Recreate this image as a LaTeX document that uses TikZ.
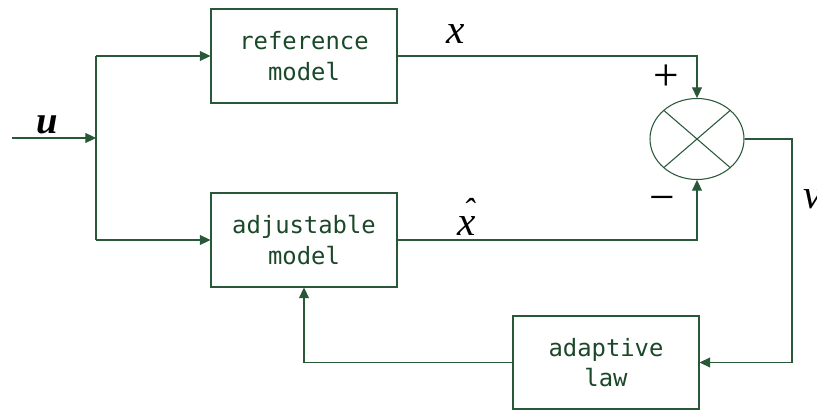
\documentclass[tikz,border=0pt]{standalone}
\usepackage{fontspec}
\setmainfont{Liberation Serif}
\newfontfamily\boxfont{DejaVu Sans Mono}
\usetikzlibrary{arrows.meta,shapes.geometric,calc}

\definecolor{wire}{RGB}{40,88,56}
\definecolor{ink}{RGB}{28,72,42}

\tikzset{
  wire/.style={draw=wire, line width=0.8pt},
  arr/.style={wire, -{Triangle[length=8pt,width=7.5pt]}},
  block/.style={draw=wire, line width=0.8pt, rectangle, inner sep=0pt,
    minimum width=139.5pt, minimum height=70.5pt, align=center,
    text=ink, font=\boxfont\fontsize{17.9}{23}\selectfont},
  sig/.style={inner sep=0pt, font=\fontsize{31}{34}\selectfont\itshape},
  sgn/.style={inner sep=0pt, font=\fontsize{34}{36}\selectfont}
}

\begin{document}
\begin{tikzpicture}[x=0.75pt, y=-0.75pt]
  \useasboundingbox (0,0) rectangle (817,410);

  % blocks
  \node[block] (ref) at (304,56) {reference\\model};
  \node[block] (adj) at (304,240) {adjustable\\model};
  \node[block, minimum height=69.75pt] (law) at (606,362.5) {adaptive\\law};

  % comparator
  \node[draw=wire, line width=0.8pt, ellipse, inner sep=0pt,
        minimum width=70.5pt, minimum height=60.75pt] (sum) at (697,139) {};
  \draw[wire] ($(sum.center)+(-33.2,-28.6)$) -- ($(sum.center)+(33.2,28.6)$);
  \draw[wire] ($(sum.center)+(33.2,-28.6)$) -- ($(sum.center)+(-33.2,28.6)$);

  % input and its branches
  \coordinate (in) at (12,138);
  \coordinate (split) at (96,138);
  \coordinate (ta) at (96,56);
  \coordinate (tb) at (96,240);
  \draw[arr] (in) -- (split);
  \draw[wire] (ta) -- (tb);
  \draw[arr] (ta) -- (ref.west);
  \draw[arr] (tb) -- (adj.west);

  % model outputs into the comparator
  \draw[arr] (ref.east) -| (sum.north);
  \draw[arr] (adj.east) -| (sum.south);

  % error feedback through the adaptive law
  \coordinate (vc) at (792,362.5);
  \draw[arr] (sum.east) -| (vc) -- (law.east);
  \draw[arr] (law.west) -| (adj.south);

  % signal labels
  \node[sig, font=\fontsize{29}{32}\selectfont\bfseries\itshape] (lu) at (47,125) {u};
  \node[sig] (lx) at (456,34) {x};
  \node[sig] (lxh) at (467,217) {\rlap{\hspace{0.12em}\raisebox{0.3em}{\fontsize{26}{28}\selectfont ˆ}}x};
  \node[sig, anchor=west] (lv) at (803,199) {v};
  \node[sgn] (lp) at (666,78) {+};
  \node[sgn] (lm) at (662,204) {−};
\end{tikzpicture}
\end{document}
